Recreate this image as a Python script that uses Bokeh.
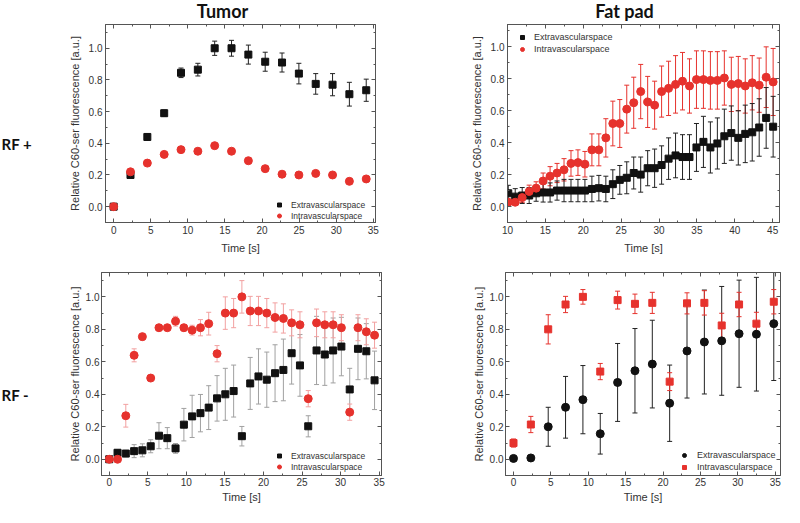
from bokeh.plotting import figure
from bokeh.models import (Range1d, LinearAxis, SingleIntervalTicker, PrintfTickFormatter,
                          ColumnDataSource, Whisker, TeeHead, Legend, LegendItem, Label)
from bokeh.layouts import column, row
from bokeh.embed import file_html
from bokeh.resources import INLINE

# ---------------- data ----------------
# Tumor, RF +
t1_x = [0, 2.27, 4.54, 6.81, 9.08, 11.35, 13.62, 15.89, 18.16, 20.43, 22.70, 24.97, 27.24, 29.51, 31.78, 34.05]
t1_ext = [0.0, 0.20, 0.44, 0.59, 0.845, 0.865, 1.0, 1.0, 0.96, 0.915, 0.91, 0.84, 0.775, 0.77, 0.71, 0.735]
t1_ext_err = [0.01, 0.015, 0.02, 0.02, 0.03, 0.04, 0.045, 0.05, 0.06, 0.06, 0.06, 0.065, 0.065, 0.07, 0.075, 0.07]
t1_int = [0.0, 0.22, 0.275, 0.33, 0.36, 0.35, 0.385, 0.35, 0.29, 0.24, 0.205, 0.20, 0.21, 0.20, 0.16, 0.175]

# Fat pad, RF +
f1_x = [10.1, 11.02, 11.94, 12.86, 13.78, 14.7, 15.62, 16.54, 17.46, 18.38, 19.3, 20.22, 21.14,
        22.06, 22.98, 23.9, 24.82, 25.74, 26.66, 27.58, 28.5, 29.42, 30.34, 31.26, 32.18, 33.1,
        34.02, 34.94, 35.86, 36.78, 37.7, 38.62, 39.54, 40.46, 41.38, 42.3, 43.22, 44.14, 45.06]
f1_ext = [0.083, 0.062, 0.069, 0.069, 0.083, 0.088, 0.088, 0.10, 0.10, 0.10, 0.10, 0.10, 0.11,
          0.115, 0.11, 0.14, 0.167, 0.18, 0.21, 0.20, 0.24, 0.24, 0.26, 0.30, 0.32, 0.31,
          0.31, 0.37, 0.405, 0.37, 0.395, 0.44, 0.46, 0.43, 0.455, 0.465, 0.495, 0.555, 0.50]
f1_ext_err = [0.05, 0.05, 0.05, 0.05, 0.05, 0.06, 0.06, 0.06, 0.07, 0.07, 0.07, 0.07, 0.08,
              0.08, 0.08, 0.09, 0.09, 0.10, 0.10, 0.11, 0.11, 0.12, 0.12, 0.13, 0.14, 0.14,
              0.14, 0.15, 0.16, 0.16, 0.16, 0.17, 0.17, 0.17, 0.18, 0.18, 0.18, 0.19, 0.19]
f1_int = [0.027, 0.027, 0.056, 0.094, 0.115, 0.16, 0.19, 0.21, 0.23, 0.27, 0.275, 0.265, 0.355,
          0.355, 0.43, 0.52, 0.52, 0.61, 0.65, 0.72, 0.655, 0.635, 0.72, 0.74, 0.765, 0.785,
          0.755, 0.795, 0.795, 0.79, 0.79, 0.805, 0.765, 0.77, 0.755, 0.775, 0.76, 0.81, 0.78]
f1_int_err = [0.02, 0.02, 0.03, 0.04, 0.04, 0.05, 0.06, 0.06, 0.07, 0.08, 0.08, 0.08, 0.10,
              0.10, 0.12, 0.14, 0.15, 0.15, 0.16, 0.17, 0.16, 0.15, 0.16, 0.17, 0.18, 0.18,
              0.17, 0.18, 0.18, 0.18, 0.18, 0.17, 0.17, 0.17, 0.17, 0.17, 0.17, 0.19, 0.21]

# Tumor, RF -
t2_x = [0, 1.08, 2.15, 3.23, 4.3, 5.38, 6.45, 7.53, 8.6, 9.68, 10.75, 11.83, 12.9, 13.98, 15.05,
        16.13, 17.2, 18.28, 19.35, 20.43, 21.5, 22.58, 23.65, 24.73, 25.8, 26.88, 27.95, 29.03,
        30.1, 31.18, 32.25, 33.33, 34.4]
t2_ext = [0.0, 0.04, 0.035, 0.05, 0.055, 0.08, 0.145, 0.13, 0.067, 0.213, 0.264, 0.284, 0.318,
          0.375, 0.40, 0.42, 0.142, 0.467, 0.51, 0.49, 0.53, 0.55, 0.653, 0.578, 0.203, 0.67,
          0.645, 0.67, 0.694, 0.43, 0.68, 0.665, 0.486]
t2_ext_err = [0.0, 0.02, 0.02, 0.04, 0.04, 0.04, 0.08, 0.065, 0.03, 0.10, 0.13, 0.115, 0.135,
              0.14, 0.16, 0.16, 0.06, 0.16, 0.17, 0.17, 0.175, 0.19, 0.19, 0.19, 0.065, 0.21,
              0.19, 0.20, 0.18, 0.13, 0.19, 0.17, 0.18]
t2_int = [0.0, 0.0, 0.268, 0.64, 0.755, 0.50, 0.81, 0.81, 0.85, 0.81, 0.795, 0.81, 0.835, 0.65,
          0.90, 0.90, 1.0, 0.913, 0.913, 0.90, 0.873, 0.867, 0.84, 0.828, 0.373, 0.84, 0.828,
          0.828, 0.81, 0.29, 0.81, 0.785, 0.764]
t2_int_err = [0.0, 0.01, 0.07, 0.04, 0.02, 0.01, 0.01, 0.015, 0.03, 0.02, 0.03, 0.05, 0.07, 0.05,
              0.10, 0.09, 0.10, 0.09, 0.09, 0.09, 0.09, 0.09, 0.08, 0.08, 0.05, 0.085, 0.08,
              0.08, 0.08, 0.05, 0.08, 0.08, 0.08]

# Fat pad, RF -
f2_x = [0, 2.32, 4.64, 6.96, 9.28, 11.6, 13.92, 16.24, 18.56, 20.88, 23.2, 25.52, 27.84, 30.16, 32.48, 34.8]
f2_ext = [0.005, 0.008, 0.20, 0.32, 0.367, 0.157, 0.473, 0.545, 0.586, 0.345, 0.667, 0.722, 0.729, 0.773, 0.77, 0.835]
f2_ext_err = [0.0, 0.0, 0.12, 0.19, 0.21, 0.125, 0.24, 0.26, 0.27, 0.235, 0.29, 0.32, 0.335, 0.33, 0.35, 0.35]
f2_int = [0.10, 0.214, 0.80, 0.953, 1.0, 0.54, 0.98, 0.957, 0.963, 0.478, 0.96, 0.963, 0.824, 0.953, 0.835, 0.97]
f2_int_err = [0.025, 0.05, 0.09, 0.05, 0.045, 0.05, 0.055, 0.06, 0.065, 0.055, 0.065, 0.075, 0.075, 0.075, 0.07, 0.075]

col_titles = ["Tumor", "Fat pad"]
row_titles = ["RF +", "RF -"]
legend_labels = ["Extravascularspace", "Intravascularspace"]
x_label = "Time [s]"
y_label = "Relative C60-ser fluorescence [a.u.]"

# ---------------- style ----------------
RED = "#e6322d"
BLACK = "#111111"
AX = "#555555"
TXT = "#333333"
FONT = "Liberation Sans"
BOLD = "Lato"


def make_fig(w, h, xr, yr, bl, br, bt, bb, xint, lab_standoff=3, axl_standoff=5):
    p = figure(width=w, height=h, x_range=Range1d(*xr), y_range=Range1d(*yr),
               output_backend="svg", toolbar_location=None,
               min_border_left=bl, min_border_right=br, min_border_top=bt, min_border_bottom=bb)
    p.grid.visible = False
    p.outline_line_color = AX
    p.background_fill_color = "white"
    p.border_fill_color = "white"
    xt = SingleIntervalTicker(interval=xint, num_minor_ticks=2)
    yt = SingleIntervalTicker(interval=0.2, num_minor_ticks=2)
    for ax, tk in ((p.xaxis[0], xt), (p.yaxis[0], yt)):
        ax.ticker = tk
        ax.major_tick_in = 4
        ax.major_tick_out = 0
        ax.minor_tick_in = 2
        ax.minor_tick_out = 0
        ax.axis_line_color = AX
        ax.major_tick_line_color = AX
        ax.minor_tick_line_color = AX
        ax.major_label_text_font = FONT
        ax.major_label_text_font_size = "10px"
        ax.major_label_text_color = TXT
        ax.major_label_standoff = lab_standoff
        ax.axis_label_text_font = FONT
        ax.axis_label_text_font_size = "11px"
        ax.axis_label_text_font_style = "normal"
        ax.axis_label_text_color = TXT
        ax.axis_label_standoff = axl_standoff
    p.yaxis[0].formatter = PrintfTickFormatter(format="%.1f")
    p.xaxis[0].axis_label = x_label
    p.yaxis[0].axis_label = y_label
    # tick-only mirror axes on top and right (Origin-style box)
    for side, tk in (("above", xt), ("right", yt)):
        a = LinearAxis(ticker=tk, major_label_text_font_size="1px", major_label_text_color=None,
                       major_label_standoff=0,
                       major_tick_in=4, major_tick_out=0, minor_tick_in=2, minor_tick_out=0,
                       axis_line_color=AX, major_tick_line_color=AX, minor_tick_line_color=AX)
        p.add_layout(a, side)
    return p


def add_err(p, x, y, e, color):
    lo = [a - b for a, b in zip(y, e)]
    hi = [a + b for a, b in zip(y, e)]
    src = ColumnDataSource(dict(x=x, lo=lo, hi=hi))
    w = Whisker(base="x", lower="lo", upper="hi", source=src, line_color=color, line_width=1,
                upper_head=TeeHead(size=5, line_color=color, line_width=1),
                lower_head=TeeHead(size=5, line_color=color, line_width=1))
    p.add_layout(w)


def add_legend(p, r1, r2, loc, fs, standoff=7, lh=11):
    lg = Legend(items=[LegendItem(label=legend_labels[0], renderers=[r1]),
                       LegendItem(label=legend_labels[1], renderers=[r2])],
                location=loc, border_line_color=None, background_fill_alpha=0,
                padding=0, margin=0, spacing=0, glyph_width=10, glyph_height=lh,
                label_height=lh, label_standoff=standoff, label_text_font=FONT,
                label_text_font_size=fs, label_text_color=TXT)
    p.add_layout(lg)


def add_text(p, x, y, text, size, align="center"):
    p.add_layout(Label(x=x, y=y, x_units="screen", y_units="screen", text=text,
                       text_align=align, text_baseline="middle", text_font=BOLD,
                       text_font_style="bold", text_font_size=size, text_color="#111111"))


def strip(w, h):
    s = figure(width=w, height=h, x_range=Range1d(0, 1), y_range=Range1d(0, 1),
               output_backend="svg", toolbar_location=None,
               x_axis_location=None, y_axis_location=None,
               min_border_left=0, min_border_right=0, min_border_top=0, min_border_bottom=0)
    s.grid.visible = False
    s.outline_line_color = None
    return s


# ---------------- side strip with row titles ----------------
p0 = strip(40, 507)
add_text(p0, 1, 364, row_titles[0], "15px", align="left")
add_text(p0, 1, 113, row_titles[1], "15px", align="left")

# ---------------- top strip with column titles ----------------
pt = strip(744, 24)
add_text(pt, 182, 14, col_titles[0], "18px")
add_text(pt, 584, 14, col_titles[1], "18px")

# ---------------- panel 1: Tumor RF+ ----------------
p1 = make_fig(352, 238, (-1.1, 35.3), (-0.1, 1.15), 65, 17, 0, 40, 5)
add_err(p1, t1_x, t1_ext, t1_ext_err, "#222222")
r1a = p1.scatter(t1_x, t1_ext, marker="square", size=7, color=BLACK)
r1b = p1.scatter(t1_x, t1_int, marker="circle", size=8, color=RED)
add_legend(p1, r1a, r1b, (169, 1), "8.5px")

# ---------------- panel 2: Fat pad RF+ ----------------
p2 = make_fig(392, 238, (10, 45.9), (-0.1, 1.14), 115, 5, 0, 39, 5)
add_err(p2, f1_x, f1_int, f1_int_err, RED)
add_err(p2, f1_x, f1_ext, f1_ext_err, "#222222")
r2a = p2.scatter(f1_x, f1_ext, marker="square", size=7, color=BLACK)
r2b = p2.scatter(f1_x, f1_int, marker="circle", size=8, color=RED)
add_legend(p2, r2a, r2b, (10, 167), "9px", lh=12)

# ---------------- panel 3: Tumor RF- ----------------
p3 = make_fig(352, 245, (-1.0, 35.3), (-0.1, 1.15), 61, 11, 10, 30, 5, 2, 2)
add_err(p3, t2_x, t2_ext, t2_ext_err, "#a0a0a0")
add_err(p3, t2_x, t2_int, t2_int_err, "#f2a0a0")
r3a = p3.scatter(t2_x, t2_ext, marker="square", size=7, color=BLACK)
r3b = p3.scatter(t2_x, t2_int, marker="circle", size=8, color=RED)
add_legend(p3, r3a, r3b, (173, 3), "8.5px")

# ---------------- panel 4: Fat pad RF- ----------------
p4 = make_fig(392, 245, (-1.07, 35.7), (-0.1, 1.15), 113, 4, 10, 32, 5, 2, 2)
add_err(p4, f2_x, f2_ext, f2_ext_err, "#222222")
add_err(p4, f2_x, f2_int, f2_int_err, RED)
r4a = p4.scatter(f2_x, f2_ext, marker="circle", size=8, color=BLACK)
r4b = p4.scatter(f2_x, f2_int, marker="square", size=7, color=RED)
add_legend(p4, r4a, r4b, (174, 2), "9px", standoff=8, lh=12)

layout = row(p0, column(pt, row(p1, p2), row(p3, p4)))
open("out.html", "w").write(file_html(layout, INLINE))
